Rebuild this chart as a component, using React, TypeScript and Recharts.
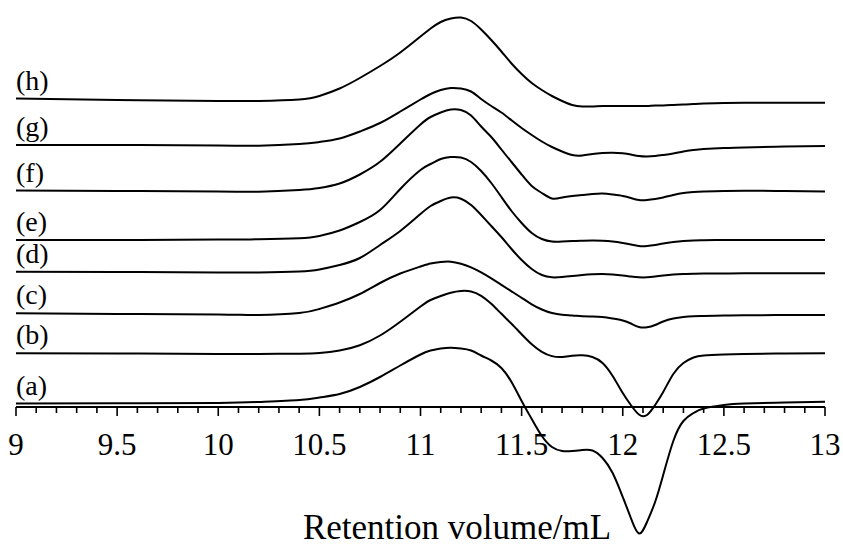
import { Label, Line, LineChart, XAxis, YAxis } from "recharts";

// retention volume (mL) sample points shared by all traces
const volumes = [
  9.0, 9.5, 10.0, 10.2, 10.4, 10.5, 10.6, 10.7, 10.8, 10.9, 11.0, 11.05, 11.1, 11.15, 11.2, 11.25, 11.3, 11.35,
  11.4, 11.45, 11.5, 11.55, 11.6, 11.65, 11.7, 11.75, 11.8, 11.85, 11.9, 11.95, 12.0, 12.04, 12.08, 12.12, 12.16,
  12.2, 12.25, 12.3, 12.35, 12.4, 12.5, 12.6, 12.8, 13.0,
];

// detector signal of each sample (arbitrary units, relative to its own baseline)
const traceA = [
  0, 0.2, 0.5, 1.5, 3.5, 6, 9.5, 16.5, 26.5, 38, 49, 53, 55, 55.8, 55, 53, 48, 43, 35.5, 21.5, 2.5, -15.5, -32.5,
  -43.5, -47.5, -47.5, -46.5, -47, -54.5, -69.5, -93.5, -114.5, -130, -118.5, -98.5, -71.5, -37.5, -17.5, -9.5, -5,
  -1.5, 0, 1, 1.8,
];
const traceB = [
  0, -0.2, -0.7, -0.7, -0.4, 0.3, 2.8, 8, 17.8, 31.6, 46.8, 53.3, 57.3, 60.6, 62.3, 61.8, 57.5, 49.5, 39.5, 29.5, 19,
  9, 1.5, -2.8, -3.7, -2.4, -2, -3.7, -9.7, -22.7, -39.7, -51.7, -61.2, -61.7, -51.7, -38.7, -20.7, -9.7, -4.2,
  -2.2, -1.2, -0.7, -0.2, 0,
];
const traceC = [
  0, -0.7, -1.2, -1.7, 0.3, 4.3, 10.8, 19.3, 30.3, 39.8, 46.8, 49.8, 51.3, 51.6, 49.5, 46, 41, 35, 28.5, 22,
  15.5, 9, 3.8, 0.3, -1.5, -2.2, -3, -3.2, -3.7, -5.2, -7.2, -10.2, -13.7, -14, -11.7, -8.2, -5.2, -3.7, -3, -2.7,
  -2.2, -2, -1.7, -1.7,
];
const traceD = [
  0, -0.3, -0.8, -0.8, 0.2, 2.2, 6.7, 13.7, 26.7, 40.7, 57.7, 65.7, 70.7, 74.2, 73, 66.7, 56.7, 45.7, 34.7, 22.7,
  11.7, 2.7, -3.3, -5.6, -5.3, -4.3, -3.3, -2.6, -2.3, -2.8, -3.8, -4.8, -5.6, -5.6, -4.8, -3.8, -2.8, -2.3, -2,
  -1.8, -1.8, -1.6, -1.6, -1.6,
];
const traceE = [
  0, 0, 0.5, 0.7, 1.7, 4, 9.5, 18, 30, 51, 70, 76, 81, 83, 82.5, 78, 69, 57, 43, 29, 17, 7, 1, -1.5, -1.5, -1, -0.7,
  -0.5, -0.7, -1.5, -3, -4.5, -6, -6, -5, -3.5, -2, -1, -0.5, -0.3, 0, 0, 0, 0,
];
const traceF = [
  0, -0.5, -1, -1.2, 0.5, 2.5, 7, 16, 28.7, 47, 66, 73.5, 78, 81, 80.5, 75, 64, 53.5, 41, 28.5, 16, 4.5, -2.5, -8,
  -7, -5.5, -4.5, -3.5, -3, -4, -5.5, -7.5, -9.5, -9.5, -8.5, -7, -4.5, -2.5, -1.5, -1, -0.5, -0.2, -0.5, -1,
];
const traceG = [
  0, 0, -0.5, -0.7, 1, 3, 6.5, 13.5, 22, 33.5, 45.5, 51, 55, 57, 56.5, 53.5, 46, 39, 32.5, 24.7, 17, 10, 3.5, -2,
  -6.5, -10, -10.5, -9, -8, -7.7, -8.3, -9.5, -11, -11.5, -11, -10, -8.5, -6.5, -5, -4, -3, -2.5, -1.5, -1,
];
const traceH = [
  0, -1.5, -2.5, -2.5, -1, 2.5, 10, 20.5, 32.5, 46, 62, 70, 76.5, 80, 81, 77.5, 69, 58.5, 47, 35, 24.5, 15.5,
  8.5, 2.5, -2.5, -6.5, -8, -8, -7.5, -7.5, -7.5, -7.5, -7.5, -7.5, -7, -7, -6.5, -6, -5.5, -5, -4.5, -4.2, -4.2,
  -4.2,
];

const traceKeys = ["a", "b", "c", "d", "e", "f", "g", "h"];
const traceNames = ["(a)", "(b)", "(c)", "(d)", "(e)", "(f)", "(g)", "(h)"];
const traceOffsets = [3.5, 53.7, 93.7, 135.3, 167, 216.5, 262, 308.5];
const traceSignals = [traceA, traceB, traceC, traceD, traceE, traceF, traceG, traceH];

const majorTicks = [9, 9.5, 10, 10.5, 11, 11.5, 12, 12.5, 13];
const axisTicks = [
  9, 9.1, 9.2, 9.3, 9.4, 9.5, 9.6, 9.7, 9.8, 9.9, 10, 10.1, 10.2, 10.3, 10.4, 10.5, 10.6, 10.7, 10.8, 10.9, 11, 11.1,
  11.2, 11.3, 11.4, 11.5, 11.6, 11.7, 11.8, 11.9, 12, 12.1, 12.2, 12.3, 12.4, 12.5, 12.6, 12.7, 12.8, 12.9, 13,
];

const rows = volumes.map((volume, i) => {
  const row: Record<string, number> = { volume };
  traceKeys.forEach((key, k) => {
    row[key] = traceOffsets[k] + traceSignals[k][i];
  });
  return row;
});

const FONT = '"Liberation Serif", "Times New Roman", Times, serif';
const WIDTH = 843;
const HEIGHT = 547;
const MARGIN = { top: 0, right: 18, bottom: 0, left: 16 };

function VolumeTick(props: any) {
  const { x, y, payload } = props;
  const value = payload.value as number;
  const isMajor = majorTicks.some((m) => Math.abs(m - value) < 1e-6);
  return (
    <g>
      <line x1={x} y1={y} x2={x} y2={y + (isMajor ? 9 : 6)} stroke="#000" strokeWidth={1.6} />
      {isMajor && (
        <text x={x} y={y + 48} textAnchor="middle" fontFamily={FONT} fontSize={31} fill="#000">
          {String(value)}
        </text>
      )}
    </g>
  );
}

function traceLabel(name: string) {
  return (props: any) =>
    props.index === 0 ? (
      <text x={props.x} y={props.y - 9} fontFamily={FONT} fontSize={28} fill="#000" textAnchor="start">
        {name}
      </text>
    ) : null;
}

export default function App() {
  return (
    <div style={{ position: "absolute", left: 0, top: 0, width: WIDTH, height: HEIGHT, background: "#fff" }}>
      <div style={{ position: "absolute", left: 0, top: 0 }}>
        <LineChart width={WIDTH} height={HEIGHT} data={rows} margin={MARGIN}>
          <XAxis
            dataKey="volume"
            type="number"
            domain={[9, 13]}
            allowDataOverflow
            ticks={axisTicks}
            interval={0}
            height={140}
            tickSize={0}
            tickMargin={0}
            tickLine={false}
            axisLine={{ stroke: "#000", strokeWidth: 2 }}
            tick={(p: any) => <VolumeTick {...p} />}
          >
            <Label
              content={() => (
                <text x={457} y={539} textAnchor="middle" fontFamily={FONT} fontSize={35} fill="#000">
                  Retention volume/mL
                </text>
              )}
            />
          </XAxis>
          <YAxis hide domain={[0, 1]} />
        </LineChart>
      </div>
      <div style={{ position: "absolute", left: 0, top: 0 }}>
        <LineChart width={WIDTH} height={HEIGHT} data={rows} margin={MARGIN}>
          <XAxis dataKey="volume" type="number" domain={[9, 13]} hide />
          <YAxis hide domain={[-140, 407]} />
          {traceKeys.map((key, k) => (
            <Line
              key={key}
              dataKey={key}
              type="natural"
              stroke="#000"
              strokeWidth={2}
              dot={false}
              label={traceLabel(traceNames[k])}
              isAnimationActive={false}
            />
          ))}
        </LineChart>
      </div>
    </div>
  );
}
